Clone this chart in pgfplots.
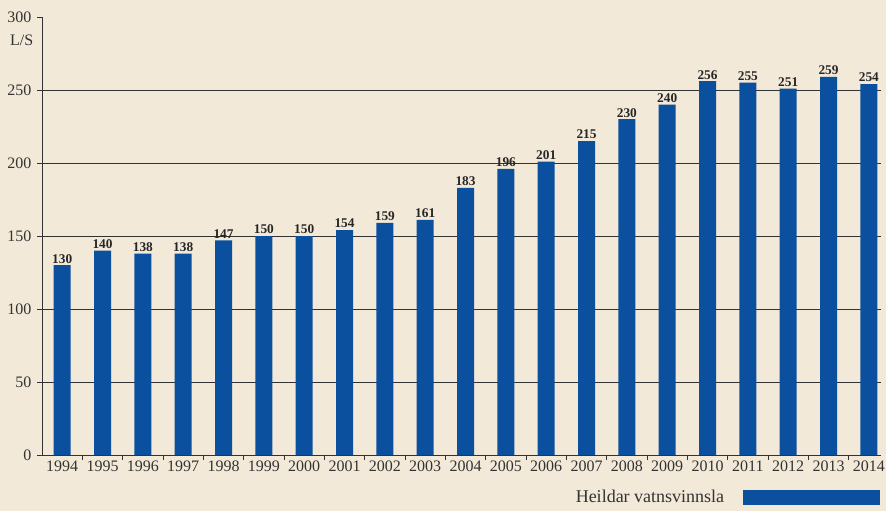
\documentclass[border=0pt]{standalone}
\usepackage{pgfplots}
\pgfplotsset{compat=1.18}
\usepackage{fontspec}
\setmainfont{Liberation Serif}
\definecolor{bgc}{RGB}{243,233,216}
\definecolor{barblue}{RGB}{11,80,158}
\definecolor{gridc}{RGB}{50,50,50}
\begin{document}
\begin{tikzpicture}
\fill[bgc] (0,0) rectangle (664.5pt,383.25pt);
\begin{axis}[
  at={(31.5pt,42pt)}, anchor=south west,
  scale only axis, width=629.25pt, height=328.5pt,
  xmin=-0.5, xmax=20.3, ymin=0, ymax=300,
  axis x line=bottom, axis y line=left,
  axis line style={-, gridc, line width=0.7pt},
  xtick={0.5,1.5,...,19.5},
  xticklabels={},
  extra x ticks={0,...,20},
  extra x tick labels={1994,1995,1996,1997,1998,1999,2000,2001,2002,2003,2004,2005,2006,2007,2008,2009,2010,2011,2012,2013,2014},
  extra x tick style={major tick length=0pt},
  major tick length=3.5pt,
  tick align=outside,
  tick style={gridc, line width=0.6pt},
  ytick={0,50,...,300},
  extra y ticks={50,100,150,200,250},
  extra y tick labels={},
  extra y tick style={grid=major, major tick length=0pt},
  grid style={gridc, line width=0.7pt},
  /pgf/number format/assume math mode=true,
  tick label style={font=\fontsize{12}{14}\selectfont, text=black!80},
  xticklabel style={yshift=-1pt},
  yticklabel style={xshift=-1pt},
  ylabel={L/S},
  ylabel style={rotate=-90, at={(axis description cs:0,0.947)}, anchor=east, xshift=-3pt, font=\fontsize{12}{14}\selectfont, text=black!80},
  nodes near coords,
  nodes near coords style={font=\bfseries\fontsize{10}{12}\selectfont, text=black!85, yshift=-2pt},
  legend style={at={(0.999,-0.096)}, anchor=east, draw=none, fill=none, inner sep=0pt, font=\fontsize{13.5}{16}\selectfont, text=black!80},
  legend plot pos=right,
  legend image code/.code={\path (0pt,0pt); \fill[barblue] (12pt,-5.6pt) rectangle (114.75pt,5.6pt);},
]
\addplot[ybar, bar width=12.75pt, fill=barblue, draw=none] coordinates {
(0,130) (1,140) (2,138) (3,138) (4,147) (5,150) (6,150) (7,154) (8,159) (9,161)
(10,183) (11,196) (12,201) (13,215) (14,230) (15,240) (16,256) (17,255) (18,251) (19,259) (20,254)
};
\addlegendentry{Heildar vatnsvinnsla}
\end{axis}
\pgfresetboundingbox
\useasboundingbox (0,0) rectangle (664.5pt,383.25pt);
\end{tikzpicture}
\end{document}
